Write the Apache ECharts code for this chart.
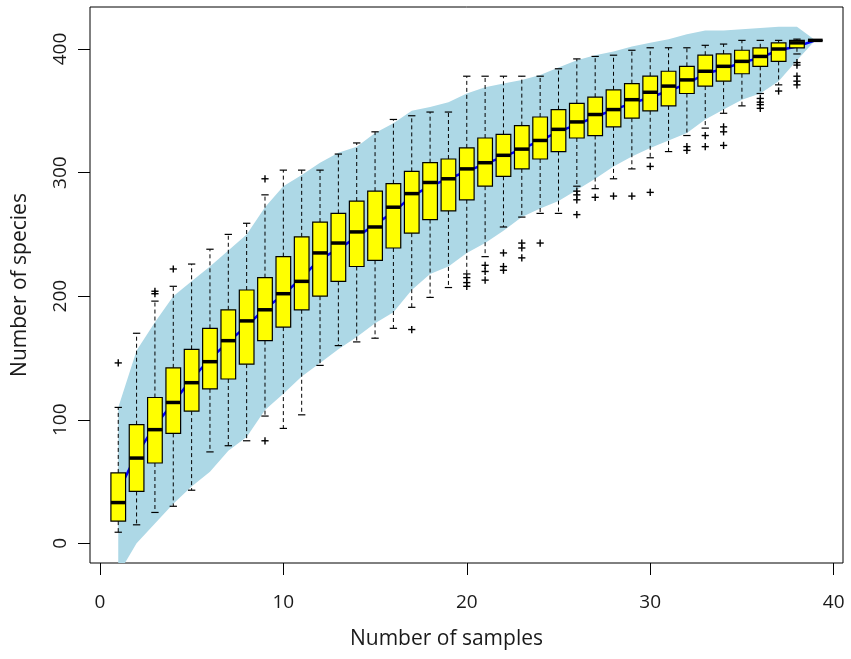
<!DOCTYPE html>
<html><head><meta charset="utf-8">
<script src="https://cdn.jsdelivr.net/npm/echarts@6/dist/echarts.min.js"></script>
<style>html,body{margin:0;padding:0;background:#fff}#chart{width:851px;height:659px}</style>
</head><body><div id="chart"></div>
<script>
const samples = [1,2,3,4,5,6,7,8,9,10,11,12,13,14,15,16,17,18,19,20,21,22,23,24,25,26,27,28,29,30,31,32,33,34,35,36,37,38,39];
const whiskerLow = [9,15,25,30,43,74,79,83,103,93,104,144,160,163,166,174,191,199,207,218,232,256,264,267,267,289,287,295,303,312,317,330,336,348,354,364,371,396,407];
const q1 = [18,42,65,89,107,125,133,145,164,175,189,200,212,224,229,239,251,262,269,278,289,297,303,311,317,328,330,337,344,350,354,364,370,374,380,386,390,401,407];
const medians = [33,69,92,114,130,147,164,180,189,202,212,235,243,252,256,272,283,292,295,303,308,314,319,326,335,341,347,351,359,365,370,375,382,386,390,394,400,405,407];
const q3 = [57,96,118,142,157,174,189,205,215,232,248,260,267,277,285,291,301,308,311,320,328,331,338,345,351,356,361,367,372,378,382,386,395,396,399,401,405,407,407];
const whiskerHigh = [110,170,196,208,226,238,250,259,282,302,302,302,315,324,333,343,346,349,349,378,378,378,378,378,384,392,394,395,399,401,401,401,403,404,407,407,407,408,407];
const means = [42,72,95,114,133,149,163,176,190,201,215,230,238,248,258,268,281,289,295,301,307,313,319,326,333,339,345,351,356,361,366,372,380,384,389,393,399,402,407];
const bandLower = [-25,0,16,32,46,58,75,86,108,121,135,146,157,167,178,187,205,218,224,235,243,253,264,271,277,286,295,305,313,320,326,332,343,351,359,364,374,391,407];
const bandUpper = [110,156,179,200,212,224,237,250,272,289,298,308,316,321,332,340,350,353,357,364,369,372,375,379,385,391,395,398,402,405,408,412,415,415,416,417,418,418,407];
const outlierSample = [1,3,3,4,9,9,17,20,20,20,21,21,21,22,22,22,23,23,23,24,26,26,26,26,27,28,29,30,30,32,32,33,33,34,34,34,36,36,36,36,37,38,38,38,38,38];
const outlierValue = [146,204,202,222,295,83,173,215,211,208,225,220,213,235,224,221,243,239,231,243,285,282,278,266,280,281,281,305,284,321,318,330,321,337,333,322,360,357,355,352,366,389,387,378,374,371];
const xTicks = [0,10,20,30,40];
const yTicks = [0,100,200,300,400];
const xTitle = 'Number of samples';
const yTitle = 'Number of species';

const BOX_WIDTH = 0.8;
const FONT = '"Open Sans", "Noto Sans", sans-serif';
const TEXT = '#1a1a1a';

const boxData = samples.map((n, i) => [n, whiskerLow[i], q1[i], medians[i], q3[i], whiskerHigh[i]]);
const meanData = samples.map((n, i) => [n, means[i]]);
const bandData = samples.map((n, i) => [n, bandLower[i], bandUpper[i]]);
const outlierData = outlierSample.map((n, i) => [n, outlierValue[i]]);

function renderBand(params, api) {
  if (params.dataIndex !== 0) return null;
  const pts = [];
  for (let i = 0; i < samples.length; i++) pts.push(api.coord([samples[i], bandUpper[i]]));
  for (let i = samples.length - 1; i >= 0; i--) pts.push(api.coord([samples[i], bandLower[i]]));
  return { type: 'polygon', shape: { points: pts }, style: { fill: '#add8e6', stroke: null } };
}

function renderBox(params, api) {
  const n = api.value(0);
  const lo = api.coord([n, api.value(1)]);
  const b1 = api.coord([n, api.value(2)]);
  const md = api.coord([n, api.value(3)]);
  const b3 = api.coord([n, api.value(4)]);
  const hi = api.coord([n, api.value(5)]);
  const w = api.size([BOX_WIDTH, 0])[0];
  const cx = md[0];
  const dash = { stroke: '#000', lineWidth: 1, lineDash: [4, 3] };
  const solid = { stroke: '#000', lineWidth: 1.2 };
  return {
    type: 'group',
    children: [
      { type: 'line', shape: { x1: cx, y1: b1[1], x2: cx, y2: lo[1] }, style: dash },
      { type: 'line', shape: { x1: cx, y1: b3[1], x2: cx, y2: hi[1] }, style: dash },
      { type: 'line', shape: { x1: cx - w / 4, y1: lo[1], x2: cx + w / 4, y2: lo[1] }, style: solid },
      { type: 'line', shape: { x1: cx - w / 4, y1: hi[1], x2: cx + w / 4, y2: hi[1] }, style: solid },
      { type: 'rect', shape: { x: cx - w / 2, y: b3[1], width: w, height: b1[1] - b3[1] },
        style: { fill: '#ffff00', stroke: '#000', lineWidth: 1.2 } },
      { type: 'line', shape: { x1: cx - w / 2, y1: md[1], x2: cx + w / 2, y2: md[1] },
        style: { stroke: '#000', lineWidth: 3.5 } }
    ]
  };
}

function renderPlus(params, api) {
  const p = api.coord([api.value(0), api.value(1)]);
  const s = 3.6;
  const st = { stroke: '#000', lineWidth: 1.4 };
  return {
    type: 'group',
    children: [
      { type: 'line', shape: { x1: p[0] - s, y1: p[1], x2: p[0] + s, y2: p[1] }, style: st },
      { type: 'line', shape: { x1: p[0], y1: p[1] - s, x2: p[0], y2: p[1] + s }, style: st }
    ]
  };
}

const chart = echarts.init(document.getElementById('chart'), null, { renderer: 'canvas' });
chart.setOption({
  backgroundColor: '#fff',
  animation: false,
  grid: { left: 90, right: 8, top: 7, bottom: 96, show: true, borderColor: '#000', borderWidth: 1, backgroundColor: 'transparent' },
  xAxis: {
    type: 'value', min: -0.54, max: 40.51,
    axisLine: { show: false, onZero: false },
    splitLine: { show: false },
    axisTick: { show: true, customValues: xTicks, length: 12, lineStyle: { color: '#000', width: 1 } },
    axisLabel: { customValues: xTicks, margin: 30, fontSize: 19, color: TEXT, fontFamily: FONT },
    name: xTitle, nameLocation: 'middle', nameGap: 66,
    nameTextStyle: { fontSize: 21, color: TEXT, fontFamily: FONT, padding: [0, 40, 0, 0] }
  },
  yAxis: {
    type: 'value', min: -15.9, max: 434,
    axisLine: { show: false, onZero: false },
    splitLine: { show: false },
    axisTick: { show: true, customValues: yTicks, length: 12, lineStyle: { color: '#000', width: 1 } },
    axisLabel: { customValues: yTicks, rotate: 90, margin: 20, fontSize: 19, color: TEXT, fontFamily: FONT },
    name: yTitle, nameLocation: 'middle', nameGap: 59,
    nameTextStyle: { fontSize: 21, color: TEXT, fontFamily: FONT }
  },
  series: [
    { type: 'custom', name: 'band', data: bandData, renderItem: renderBand, clip: true, z: 1,
      encode: { x: 0, y: [1, 2] }, silent: true },
    { type: 'line', name: 'mean', data: meanData, symbol: 'none', z: 2, clip: true,
      lineStyle: { color: '#0000ff', width: 2.5 }, silent: true },
    { type: 'custom', name: 'boxes', data: boxData, renderItem: renderBox, z: 3,
      encode: { x: 0, y: [1, 2, 3, 4, 5] }, silent: true },
    { type: 'custom', name: 'outliers', data: outlierData, renderItem: renderPlus, z: 4,
      encode: { x: 0, y: 1 }, silent: true }
  ]
});
</script>
</body></html>
